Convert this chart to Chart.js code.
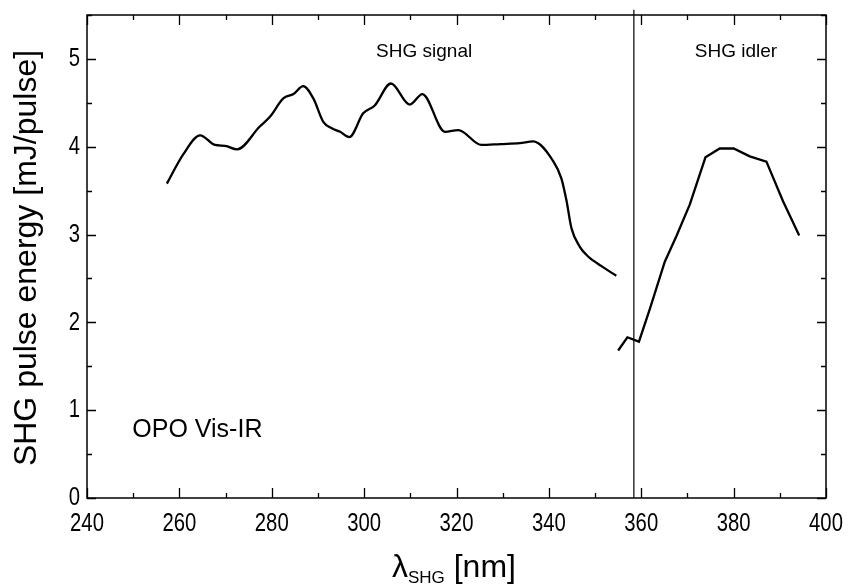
<!DOCTYPE html>
<html>
<head>
<meta charset="utf-8">
<script src="https://cdn.jsdelivr.net/npm/chart.js@4"></script>
<style>
  html, body { margin: 0; padding: 0; background: #fff; }
  #wrap { width: 850px; height: 588px; }
</style>
</head>
<body>
<div id="wrap"><canvas id="shgChart" width="850" height="588"></canvas></div>
<script>
// signal branch (smooth curve)
const signalX = [257.3, 260.8, 264.5, 267.7, 269.9, 272.5, 277.4, 279.6, 282.5, 284.7, 286.8, 289.0, 291.2, 293.0, 294.8, 296.8, 299.8, 302.3, 305.8, 309.9, 312.6, 317.5, 320.4, 325.4, 329.5, 333.7, 336.6, 341.0, 342.7, 343.8, 344.9, 346.7, 348.5, 351.4, 354.6];
const signalY = [3.58, 3.91, 4.13, 4.02, 4.01, 3.97, 4.23, 4.34, 4.55, 4.60, 4.69, 4.55, 4.28, 4.21, 4.17, 4.11, 4.38, 4.47, 4.72, 4.48, 4.60, 4.17, 4.19, 4.02, 4.03, 4.04, 4.06, 3.83, 3.64, 3.39, 3.07, 2.86, 2.75, 2.64, 2.53];
// idler branch (straight segments)
const idlerX = [355.0, 357.0, 359.5, 361.9, 365.1, 367.6, 370.5, 373.9, 377.0, 380.0, 383.5, 387.1, 390.7, 394.2];
const idlerY = [1.68, 1.83, 1.78, 2.16, 2.69, 2.98, 3.34, 3.88, 3.98, 3.98, 3.89, 3.83, 3.38, 2.99];
// boundary between signal and idler (pokes just above the frame)
const dividerX = 358.4;
const dividerTop = 5.56;
const xTicks = [240, 260, 280, 300, 320, 340, 360, 380, 400];
const yTicks = [0, 1, 2, 3, 4, 5];

const notes = [
    { text: 'SHG signal', x: 313, y: 5.08, size: 19 },
    { text: 'SHG idler', x: 380.5, y: 5.08, size: 19 },
    { text: 'OPO Vis-IR', x: 263.9, y: 0.77, size: 25 }
];

const FONT = '"Liberation Sans", Arial, sans-serif';
const TICK_SIZE = 26;
const TICK_SQUEEZE = 0.78;   // tick numbers are set in a condensed face

function toPoints(xs, ys) {
    return xs.map((x, i) => ({ x: x, y: ys[i] }));
}

function squeezedText(c, text, x, y, align) {
    c.save();
    c.translate(x, y);
    c.scale(TICK_SQUEEZE, 1);
    c.textAlign = align;
    c.fillText(text, 0, 0);
    c.restore();
}

// frame + inward ticks on all four sides, tick numbers, notes and axis titles
const framePlugin = {
    id: 'frame',
    afterDraw(chart) {
        const c = chart.ctx;
        const a = chart.chartArea;
        const xs = chart.scales.x;
        const ys = chart.scales.y;
        c.save();
        c.strokeStyle = '#000';
        c.lineWidth = 1.5;
        c.strokeRect(a.left, a.top, a.right - a.left, a.bottom - a.top);

        c.lineWidth = 1.3;
        c.beginPath();
        for (let v = 240; v <= 400; v += 10) {
            const px = Math.round(xs.getPixelForValue(v)) + 0.5;
            const len = v % 20 === 0 ? 10 : 5;
            c.moveTo(px, a.bottom); c.lineTo(px, a.bottom - len);
            c.moveTo(px, a.top); c.lineTo(px, a.top + len);
        }
        for (let v = 0; v <= 5.5; v += 0.5) {
            const py = Math.round(ys.getPixelForValue(v)) + 0.5;
            const len = Number.isInteger(v) ? 9 : 5;
            c.moveTo(a.left, py); c.lineTo(a.left + len, py);
            c.moveTo(a.right, py); c.lineTo(a.right - len, py);
        }
        c.stroke();

        c.fillStyle = '#000';
        c.font = TICK_SIZE + 'px ' + FONT;
        c.textBaseline = 'middle';
        xTicks.forEach(v => squeezedText(c, String(v), xs.getPixelForValue(v), a.bottom + 26, 'center'));
        yTicks.forEach(v => squeezedText(c, String(v), a.left - 7, ys.getPixelForValue(v), 'right'));

        c.textAlign = 'center';
        notes.forEach(n => {
            c.font = n.size + 'px ' + FONT;
            c.fillText(n.text, xs.getPixelForValue(n.x), ys.getPixelForValue(n.y));
        });

        // y title
        c.save();
        c.translate(27, 258);
        c.rotate(-Math.PI / 2);
        c.font = '32px ' + FONT;
        c.fillText('SHG pulse energy [mJ/pulse]', 0, 0);
        c.restore();

        // x title with subscript
        c.textAlign = 'left';
        c.textBaseline = 'alphabetic';
        let x0 = 392;
        const base = 577;
        c.font = '32px ' + FONT;
        c.fillText('\u03bb', x0, base);
        x0 += c.measureText('\u03bb').width;
        c.font = '17px ' + FONT;
        c.fillText('SHG', x0, base + 6);
        x0 += c.measureText('SHG').width;
        c.font = '32px ' + FONT;
        c.fillText(' [nm]', x0, base);
        c.restore();
    }
};

const ctx = document.getElementById('shgChart').getContext('2d');
new Chart(ctx, {
    type: 'scatter',
    data: {
        datasets: [
            {
                label: 'SHG signal',
                data: toPoints(signalX, signalY),
                showLine: true,
                borderColor: '#000',
                borderWidth: 2.3,
                pointRadius: 0,
                cubicInterpolationMode: 'monotone'
            },
            {
                label: 'SHG idler',
                data: toPoints(idlerX, idlerY),
                showLine: true,
                borderColor: '#000',
                borderWidth: 2.3,
                pointRadius: 0,
                tension: 0
            },
            {
                label: 'divider',
                data: [{ x: dividerX, y: 0 }, { x: dividerX, y: dividerTop }],
                showLine: true,
                borderColor: '#000',
                borderWidth: 1.2,
                pointRadius: 0,
                tension: 0,
                clip: false
            }
        ]
    },
    options: {
        responsive: false,
        animation: false,
        layout: { padding: { top: 15, right: 24, left: 0, bottom: 0 } },
        plugins: {
            legend: { display: false },
            tooltip: { enabled: false }
        },
        scales: {
            x: {
                type: 'linear',
                min: 240,
                max: 400,
                grid: { display: false, drawTicks: false },
                border: { display: false },
                ticks: { display: false },
                afterFit: s => {
                    s.height = 90;
                    s.paddingLeft = 0; s.paddingRight = 0;
                },
                afterBuildTicks: s => { s.ticks = xTicks.map(v => ({ value: v })); }
            },
            y: {
                type: 'linear',
                min: 0,
                max: 5.5,
                grid: { display: false, drawTicks: false },
                border: { display: false },
                ticks: { display: false },
                afterFit: s => {
                    s.width = 87;
                    s.paddingTop = 0; s.paddingBottom = 0;
                },
                afterBuildTicks: s => { s.ticks = yTicks.map(v => ({ value: v })); }
            }
        }
    },
    plugins: [framePlugin]
});
</script>
</body>
</html>
